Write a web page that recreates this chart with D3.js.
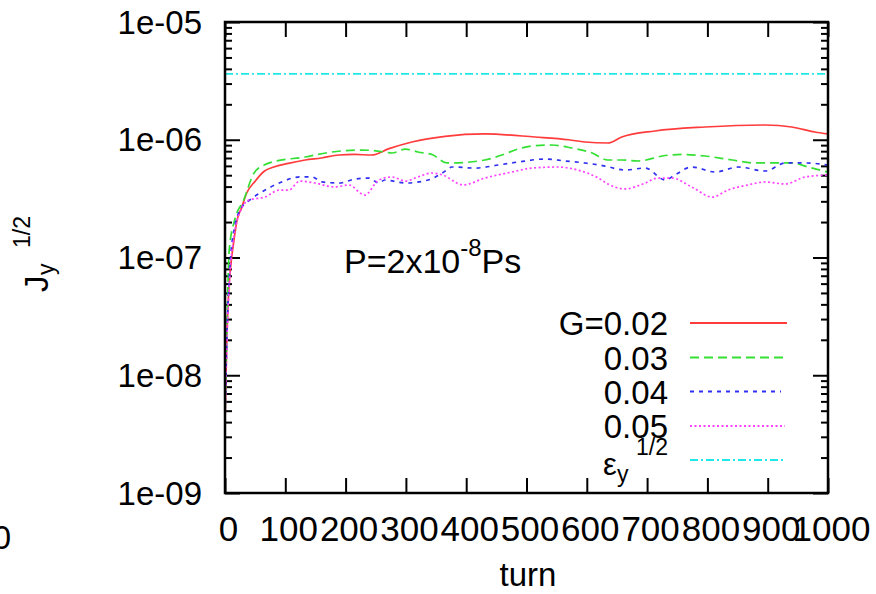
<!DOCTYPE html>
<html>
<head>
<meta charset="utf-8">
<script src="https://cdn.jsdelivr.net/npm/d3@7"></script>
<style>
  html, body { margin: 0; padding: 0; background: #fff; }
  svg text { font-family: "Liberation Sans", Arial, Helvetica, sans-serif; fill: #000; }
</style>
</head>
<body>
<svg id="chart" width="876" height="594"></svg>
<script>
// ---------------- data ----------------
const xTickValues = [0, 100, 200, 300, 400, 500, 600, 700, 800, 900, 1000];
const xTickLabels = ["0", "100", "200", "300", "400", "500", "600", "700", "800", "900", "1000"];
const yTickValues = [1e-9, 1e-8, 1e-7, 1e-6, 1e-5];
const yTickLabels = ["1e-09", "1e-08", "1e-07", "1e-06", "1e-05"];
const seriesNames = ["G=0.02", "0.03", "0.04", "0.05"];

const turnsG002 = [0, 3, 6, 10, 14, 20, 27, 36, 50, 65, 81, 105, 133, 160, 189, 215, 243, 272, 310, 365, 431, 514, 570, 597, 635, 658, 713, 796, 896, 940, 978, 1000];
const valsG002  = [4e-9, 2e-8, 5e-8, 9e-8, 1.3e-7, 2.08e-7, 2.6e-7, 3.53e-7, 4.45e-7, 5.4e-7, 5.87e-7, 6.3e-7, 6.73e-7, 7.0e-7, 7.42e-7, 7.5e-7, 7.42e-7, 8.4e-7, 9.57e-7, 1.07e-6, 1.12e-6, 1.055e-6, 1.0e-6, 9.57e-7, 9.38e-7, 1.055e-6, 1.187e-6, 1.283e-6, 1.335e-6, 1.283e-6, 1.164e-6, 1.12e-6];

const turnsG003 = [0, 3, 7, 16, 31, 48, 65, 78, 133, 177, 227, 265, 277, 299, 320, 345, 368, 376, 431, 459, 486, 509, 542, 575, 609, 635, 658, 685, 730, 758, 796, 841, 879, 940, 967, 1000];
const valsG003  = [4e-9, 2.2e-8, 1.16e-7, 2.08e-7, 3.08e-7, 5.2e-7, 6.1e-7, 6.47e-7, 7.14e-7, 7.87e-7, 8.18e-7, 7.87e-7, 7.72e-7, 8.34e-7, 7.87e-7, 7.42e-7, 6.35e-7, 6.35e-7, 6.73e-7, 7.42e-7, 8.34e-7, 8.85e-7, 9.02e-7, 8.51e-7, 7.72e-7, 6.73e-7, 6.73e-7, 6.6e-7, 7.35e-7, 7.5e-7, 7.28e-7, 6.73e-7, 6.35e-7, 6.35e-7, 5.87e-7, 5.3e-7];

const turnsG004 = [0, 3, 8, 16, 28, 41, 61, 90, 124, 144, 161, 189, 216, 239, 255, 265, 299, 337, 368, 376, 415, 453, 486, 531, 564, 597, 630, 663, 697, 730, 746, 774, 813, 851, 896, 929, 962, 1000];
const valsG004  = [4e-9, 2e-8, 8e-8, 1.82e-7, 2.68e-7, 3.08e-7, 3.6e-7, 4.29e-7, 4.83e-7, 4.83e-7, 4.38e-7, 4.29e-7, 4.64e-7, 4.73e-7, 4.29e-7, 4.55e-7, 4.29e-7, 4.55e-7, 5.53e-7, 5.87e-7, 5.75e-7, 6.1e-7, 6.47e-7, 6.86e-7, 6.6e-7, 6.35e-7, 5.98e-7, 5.53e-7, 5.75e-7, 4.55e-7, 5.02e-7, 5.87e-7, 5.32e-7, 5.87e-7, 5.43e-7, 6.35e-7, 6.35e-7, 6.1e-7];

const turnsG005 = [0, 3, 8, 14, 23, 40, 66, 90, 106, 124, 149, 182, 205, 232, 255, 277, 299, 320, 343, 361, 395, 431, 476, 509, 552, 585, 619, 635, 663, 697, 718, 741, 774, 808, 834, 867, 896, 929, 962, 1000];
const valsG005  = [4e-9, 1.8e-8, 7e-8, 1.4e-7, 2.3e-7, 3.08e-7, 3.26e-7, 3.74e-7, 3.74e-7, 4.46e-7, 4.29e-7, 3.97e-7, 4.13e-7, 3.39e-7, 4.55e-7, 4.83e-7, 4.46e-7, 4.83e-7, 5.22e-7, 5.02e-7, 4.13e-7, 4.73e-7, 5.32e-7, 5.75e-7, 5.87e-7, 5.53e-7, 4.73e-7, 4.21e-7, 3.82e-7, 4.29e-7, 4.73e-7, 4.73e-7, 3.97e-7, 3.26e-7, 3.74e-7, 4.13e-7, 4.38e-7, 4.21e-7, 4.83e-7, 5.02e-7];

const turnsEps = [0, 1000];
const valsEps  = [3.62e-6, 3.62e-6];

// ---------------- layout ----------------
const svg = d3.select("#chart");
const L = 225, R = 828, T = 22, B = 493;
const FONT = 33;
const XFONT = 35;

const x = d3.scaleLinear().domain([0, 1000]).range([L, R]);
const y = d3.scaleLog().domain([1e-9, 1e-5]).range([B, T]);

const minorY = [];
for (let e = -9; e < -5; e++) for (let m = 2; m <= 9; m++) minorY.push(m * Math.pow(10, e));

// clip
svg.append("defs").append("clipPath").attr("id", "clip")
  .append("rect").attr("x", L).attr("y", T).attr("width", R - L).attr("height", B - T);

// axes: bottom
svg.append("g").attr("transform", `translate(0,${B})`)
  .call(d3.axisBottom(x).tickValues(xTickValues).tickSize(-15).tickPadding(48)
        .tickFormat((d, i) => xTickLabels[i]))
  .call(g => g.select(".domain").remove())
  .call(g => g.selectAll("line").attr("stroke", "#000").attr("stroke-width", 2))
  .call(g => g.selectAll("text").attr("font-size", XFONT).attr("dx", 3).attr("dy", 0).attr("font-family", null));
// top
svg.append("g").attr("transform", `translate(0,${T})`)
  .call(d3.axisTop(x).tickValues(xTickValues).tickSize(-15).tickFormat(""))
  .call(g => g.select(".domain").remove())
  .call(g => g.selectAll("line").attr("stroke", "#000").attr("stroke-width", 2));
// left major
svg.append("g").attr("transform", `translate(${L},0)`)
  .call(d3.axisLeft(y).tickValues(yTickValues).tickSize(-15).tickPadding(23)
        .tickFormat((d, i) => yTickLabels[i]))
  .call(g => g.select(".domain").remove())
  .call(g => g.selectAll("line").attr("stroke", "#000").attr("stroke-width", 2))
  .call(g => g.selectAll("text").attr("font-size", FONT).attr("dy", "0.34em").attr("font-family", null));
// left minor
svg.append("g").attr("transform", `translate(${L},0)`)
  .call(d3.axisLeft(y).tickValues(minorY).tickSize(-7).tickFormat(""))
  .call(g => g.select(".domain").remove())
  .call(g => g.selectAll("line").attr("stroke", "#000").attr("stroke-width", 2));
// right major / minor
svg.append("g").attr("transform", `translate(${R},0)`)
  .call(d3.axisRight(y).tickValues(yTickValues).tickSize(-15).tickFormat(""))
  .call(g => g.select(".domain").remove())
  .call(g => g.selectAll("line").attr("stroke", "#000").attr("stroke-width", 2));
svg.append("g").attr("transform", `translate(${R},0)`)
  .call(d3.axisRight(y).tickValues(minorY).tickSize(-7).tickFormat(""))
  .call(g => g.select(".domain").remove())
  .call(g => g.selectAll("line").attr("stroke", "#000").attr("stroke-width", 2));

// series
const series = [
  { t: turnsG002, v: valsG002, color: "#ff3b3b", dash: null,      legend: seriesNames[0], lx2: 787 },
  { t: turnsG003, v: valsG003, color: "#33e033", dash: "9,5",     legend: seriesNames[1], lx2: 787 },
  { t: turnsG004, v: valsG004, color: "#3030f0", dash: "4,5",     legend: seriesNames[2], lx2: 781 },
  { t: turnsG005, v: valsG005, color: "#ff40ff", dash: "2,2.5",   legend: seriesNames[3], lx2: 785 },
  { t: turnsEps,  v: valsEps,  color: "#20e8e8", dash: "8,3,2,3", legend: null,           lx2: 783 }
];

const line = d3.line().x(d => x(d[0])).y(d => y(d[1])).curve(d3.curveMonotoneX);
const plot = svg.append("g").attr("clip-path", "url(#clip)");
series.forEach(s => {
  plot.append("path")
    .datum(s.t.map((t, i) => [t, s.v[i]]))
    .attr("d", line)
    .attr("fill", "none")
    .attr("stroke", s.color)
    .attr("stroke-width", 1.7)
    .attr("stroke-dasharray", s.dash);
});

// frame
svg.append("rect").attr("x", L).attr("y", T).attr("width", R - L).attr("height", B - T)
  .attr("fill", "none").attr("stroke", "#000").attr("stroke-width", 2.5);

// legend
const legY = [323, 357.5, 391.5, 426, 460];
const LX1 = 690, LTX = 668;
series.forEach((s, i) => {
  svg.append("line").attr("x1", LX1).attr("x2", s.lx2).attr("y1", legY[i]).attr("y2", legY[i])
    .attr("stroke", s.color).attr("stroke-width", 2).attr("stroke-dasharray", s.dash);
  if (s.legend) {
    svg.append("text").attr("x", LTX).attr("y", legY[i] + 12).attr("text-anchor", "end")
      .attr("font-size", FONT).text(s.legend);
  }
});
// epsilon_y^{1/2} legend label
const eps = svg.append("g");
eps.append("text").attr("x", 603).attr("y", 475).attr("font-size", 31).text("ε");
eps.append("text").attr("x", 617).attr("y", 482).attr("font-size", 23).text("y");
eps.append("text").attr("x", 668).attr("y", 455).attr("text-anchor", "end").attr("font-size", 23).text("1/2");

// annotation P=2x10^-8 Ps
const ann = svg.append("text").attr("x", 344).attr("y", 273).attr("font-size", 34);
ann.append("tspan").text("P=2x10");
ann.append("tspan").attr("font-size", 24).attr("dy", -17).text("-8");
ann.append("tspan").attr("dy", 17).text("Ps");

// x axis title
svg.append("text").attr("x", 528).attr("y", 586).attr("text-anchor", "middle").attr("font-size", FONT).text("turn");

// y axis title J_y^{1/2}
const yt = svg.append("g").attr("transform", "translate(48,292) rotate(-90)");
yt.append("text").attr("x", 0).attr("y", 0).attr("font-size", FONT).text("J");
yt.append("text").attr("x", 17).attr("y", 6).attr("font-size", 23).text("y");
yt.append("text").attr("x", 44).attr("y", -18).attr("font-size", 23).text("1/2");

// stray cut-off label at far left
svg.append("text").attr("x", 11).attr("y", 549).attr("text-anchor", "end").attr("font-size", FONT).text("0");
</script>
</body>
</html>
